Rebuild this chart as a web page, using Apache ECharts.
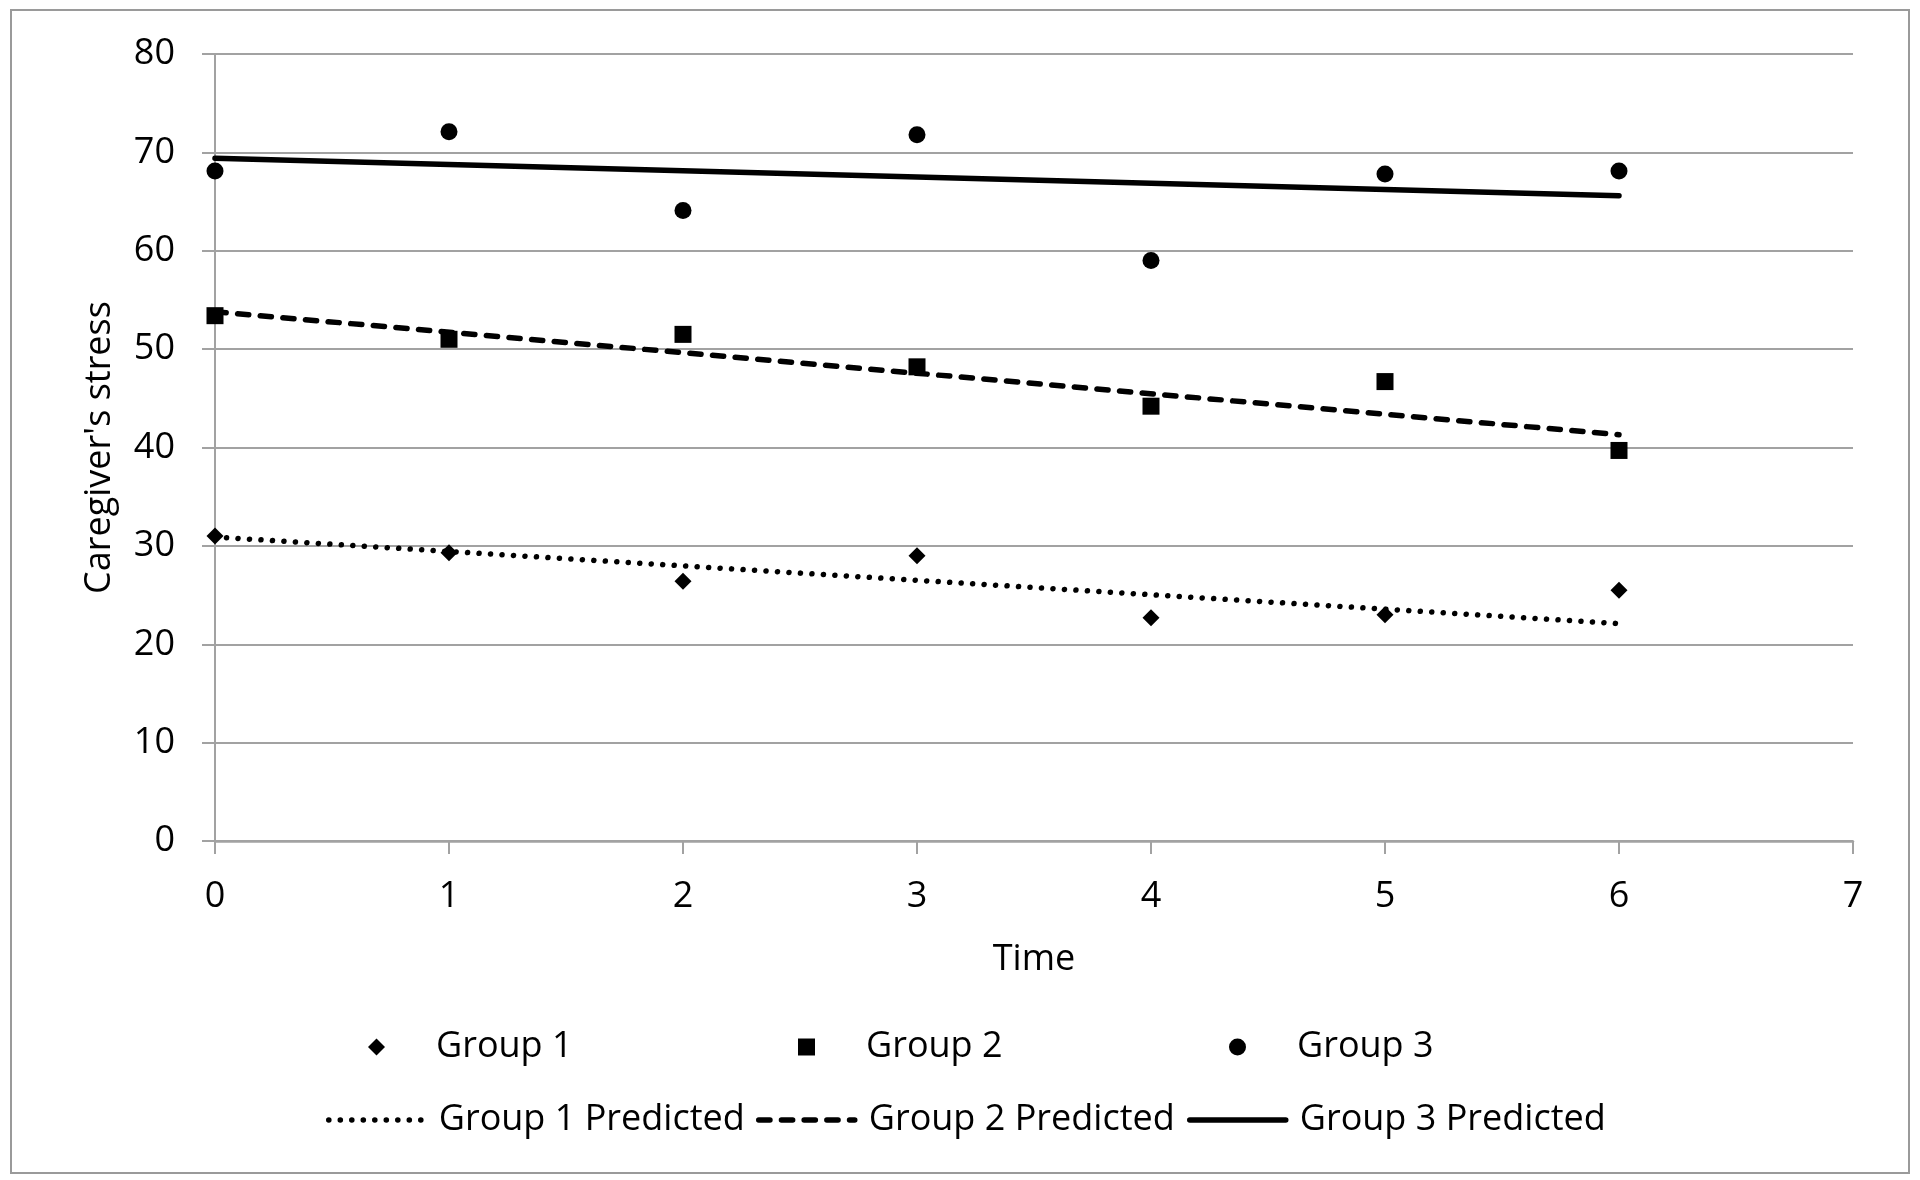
<!DOCTYPE html>
<html>
<head>
<meta charset="utf-8">
<script src="https://cdn.jsdelivr.net/npm/echarts@6/dist/echarts.min.js"></script>
<style>
html,body{margin:0;padding:0;background:#fff;}
#chart{width:1920px;height:1180px;}
</style>
</head>
<body>
<div id="chart"></div>
<script>
// ---- data ----
const time = [0, 1, 2, 3, 4, 5, 6];
const group1 = [31.0, 29.3, 26.4, 29.0, 22.7, 23.0, 25.5];
const group2 = [53.4, 51.0, 51.5, 48.2, 44.2, 46.7, 39.7];
const group3 = [68.1, 72.1, 64.1, 71.8, 59.0, 67.8, 68.1];
const predTime = [0, 6];
const group1Pred = [30.9, 22.1];
const group2Pred = [53.8, 41.3];
const group3Pred = [69.4, 65.6];
const yTicks = [0, 10, 20, 30, 40, 50, 60, 70, 80];
const xTicks = [0, 1, 2, 3, 4, 5, 6, 7];
const seriesNames = ['Group 1', 'Group 2', 'Group 3', 'Group 1 Predicted', 'Group 2 Predicted', 'Group 3 Predicted'];

const FONT = '"Open Sans"';
const FS = 36;
const LW = 5.5;
const pair = (xs, ys) => xs.map((x, i) => [x, ys[i]]);

const chart = echarts.init(document.getElementById('chart'), null, {renderer: 'canvas'});

const dotType = [0.1, 11.4];
const dashType = [11.2, 11.5];
const lineTypes = [dotType, dashType, 'solid'];

const legendCols = [436, 866, 1297];
const legends = [];
const iconTypes = ['diamond', 'rect', 'circle'];
for (let i = 0; i < 3; i++) {
  legends.push({
    data: [{name: seriesNames[i], icon: iconTypes[i]}],
    left: legendCols[i] - 68, top: 1047 - 20, padding: 0,
    itemWidth: 17, itemHeight: 17, selectedMode: false,
    itemStyle: {color: '#000', opacity: 1},
    textStyle: {fontFamily: FONT, fontSize: FS, color: '#000', lineHeight: 40, padding: [0, 0, 0, 46]}
  });
  legends.push({
    data: [seriesNames[i + 3]],
    left: legendCols[i] - 110, top: 1120 - 20, padding: 0,
    itemWidth: 96, itemHeight: 17, selectedMode: false,
    itemStyle: {opacity: 0},
    lineStyle: {color: '#000', width: LW, type: lineTypes[i], cap: 'round'},
    textStyle: {fontFamily: FONT, fontSize: FS, color: '#000', lineHeight: 40, padding: [0, 0, 0, 9]}
  });
}

const gridColor = '#a2a2a2';
const option = {
  backgroundColor: '#fff',
  animation: false,
  textStyle: {fontFamily: FONT},
  graphic: [{
    type: 'rect', shape: {x: 11, y: 10, width: 1898, height: 1163},
    style: {fill: 'none', stroke: '#9a9a9a', lineWidth: 2}, silent: true
  }],
  legend: legends,
  grid: {left: 215, right: 67, top: 54, bottom: 339, containLabel: false},
  xAxis: {
    type: 'value', min: xTicks[0], max: xTicks[xTicks.length - 1], interval: 1,
    name: 'Time', nameLocation: 'middle', nameGap: 101,
    nameTextStyle: {fontFamily: FONT, fontSize: FS, color: '#000'},
    axisLine: {show: true, lineStyle: {color: gridColor, width: 2.5}},
    axisTick: {show: true, length: 13, lineStyle: {color: gridColor, width: 2}},
    axisLabel: {fontFamily: FONT, fontSize: FS, color: '#000', margin: 38},
    splitLine: {show: false}
  },
  yAxis: {
    type: 'value', min: yTicks[0], max: yTicks[yTicks.length - 1], interval: 10,
    name: "Caregiver's stress", nameLocation: 'middle', nameGap: 97,
    nameTextStyle: {fontFamily: FONT, fontSize: FS, color: '#000'},
    axisLine: {show: true, lineStyle: {color: gridColor, width: 2}},
    axisTick: {show: true, length: 13, lineStyle: {color: gridColor, width: 2}},
    axisLabel: {fontFamily: FONT, fontSize: FS, color: '#000', margin: 40},
    splitLine: {show: true, lineStyle: {color: gridColor, width: 2}}
  },
  series: [
    {name: seriesNames[0], type: 'scatter', symbol: 'diamond', symbolSize: 17,
     itemStyle: {color: '#000', opacity: 1}, data: pair(time, group1)},
    {name: seriesNames[1], type: 'scatter', symbol: 'rect', symbolSize: 17,
     itemStyle: {color: '#000', opacity: 1}, data: pair(time, group2)},
    {name: seriesNames[2], type: 'scatter', symbol: 'circle', symbolSize: 17,
     itemStyle: {color: '#000', opacity: 1}, data: pair(time, group3)},
    {name: seriesNames[3], type: 'line', showSymbol: false, symbol: 'none',
     itemStyle: {color: '#000'},
     lineStyle: {color: '#000', width: LW, type: dotType, cap: 'round'},
     data: pair(predTime, group1Pred)},
    {name: seriesNames[4], type: 'line', showSymbol: false, symbol: 'none',
     itemStyle: {color: '#000'},
     lineStyle: {color: '#000', width: LW, type: dashType, cap: 'round'},
     data: pair(predTime, group2Pred)},
    {name: seriesNames[5], type: 'line', showSymbol: false, symbol: 'none',
     itemStyle: {color: '#000'},
     lineStyle: {color: '#000', width: LW, type: 'solid', cap: 'round'},
     data: pair(predTime, group3Pred)}
  ]
};
chart.setOption(option);
</script>
</body>
</html>
